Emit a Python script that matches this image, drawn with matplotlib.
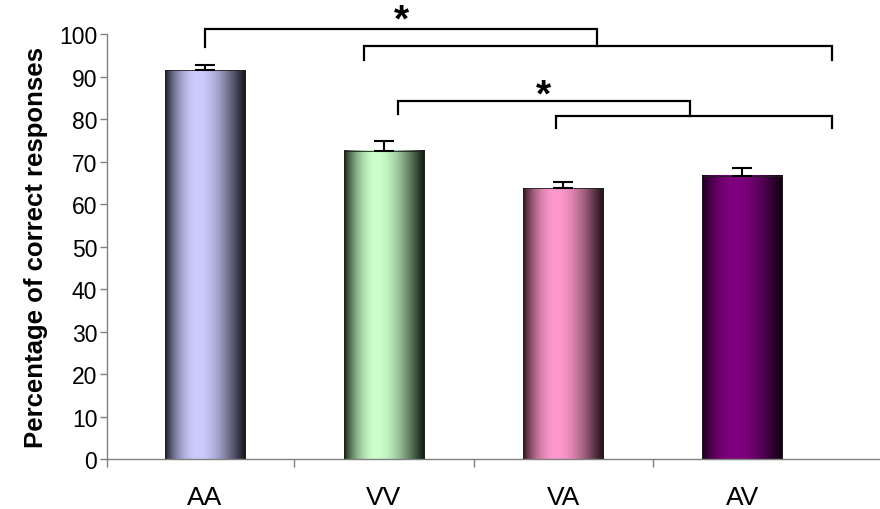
import numpy as np
import matplotlib
matplotlib.use('Agg')
import matplotlib.pyplot as plt
from matplotlib.colors import to_rgb

plt.rcParams['font.family'] = ['Liberation Sans', 'DejaVu Sans']

# data
conditions = ['AA', 'VV', 'VA', 'AV']
percent_correct = [91.5, 72.5, 63.7, 66.7]
sem = [1.3, 2.3, 1.4, 1.8]
light_colors = ['#ccccff', '#ccffcc', '#ff99cc', '#800080']
dark_colors = ['#15151f', '#0f1a0f', '#241018', '#120012']

# significance brackets: (x_left, x_right, y_bar, y_left_end, y_right_end)
brackets = [
    (0.00, 2.19, 101.2, 96.9, 97.3),
    (0.89, 3.50, 97.3, 93.9, 93.9),
    (1.08, 2.71, 84.2, 81.2, 80.8),
    (1.96, 3.50, 80.8, 77.9, 77.9),
]
star_x = [1.10, 1.89]
star_y = [103.2, 85.6]

fig = plt.figure(figsize=(8.8, 5.1), dpi=100)
ax = fig.add_axes([0.1216, 0.098, 0.8784, 0.8333])
x_left = -0.547

x = np.arange(len(conditions))
bars = ax.bar(x, percent_correct, width=0.45, color='none', edgecolor='#202020',
              linewidth=0.6, zorder=3)

# cylinder-like shading on each bar
t = np.linspace(0, 1, 200)
shade = np.where(t < 0.4,
                 np.sin(np.pi / 2 * t / 0.4) ** 0.8,
                 np.cos(np.pi / 2 * (t - 0.4) / 0.6) ** 1.1)
for bar, lc, dc in zip(bars, light_colors, dark_colors):
    lc = np.array(to_rgb(lc))
    dc = np.array(to_rgb(dc))
    grad = dc[None, :] + shade[:, None] * (lc - dc)[None, :]
    x0 = bar.get_x()
    x1 = x0 + bar.get_width()
    ax.imshow(grad[None, :, :], extent=(x0, x1, 0, bar.get_height()),
              aspect='auto', zorder=2, interpolation='bilinear')

ax.errorbar(x, percent_correct, yerr=[np.zeros(len(sem)), sem], fmt='none',
            ecolor='black', elinewidth=1.5, capsize=7, capthick=1.5, zorder=4)

for xl, xr, yb, yl, yr in brackets:
    ax.plot([xl, xl, xr, xr], [yl, yb, yb, yr], color='black', lw=1.6,
            clip_on=False, zorder=5, solid_joinstyle='miter')
for sx, sy in zip(star_x, star_y):
    ax.text(sx, sy, '*', ha='center', va='center', fontsize=28,
            fontweight='bold', clip_on=False)

ax.set_xlim(x_left, 3.77)
ax.set_ylim(0, 100)
ax.set_yticks(np.arange(0, 101, 10))
ax.set_xticks(x)
ax.set_xticklabels(conditions, fontsize=19)
ax.set_xticks([x_left, 0.5, 1.5, 2.5], minor=True)
ax.tick_params(axis='x', which='major', length=0, pad=19)
ax.tick_params(axis='x', which='minor', length=6, color='#808080', width=1)
ax.tick_params(axis='y', length=5, color='#808080', width=1, labelsize=16.5, pad=2)

for side in ['top', 'right']:
    ax.spines[side].set_visible(False)
for side in ['left', 'bottom']:
    ax.spines[side].set_color('#808080')
    ax.spines[side].set_linewidth(1)

ax.set_ylabel('Percentage of correct responses', fontsize=18.5, fontweight='bold',
              labelpad=8)

fig.savefig('out.png', dpi=100)
